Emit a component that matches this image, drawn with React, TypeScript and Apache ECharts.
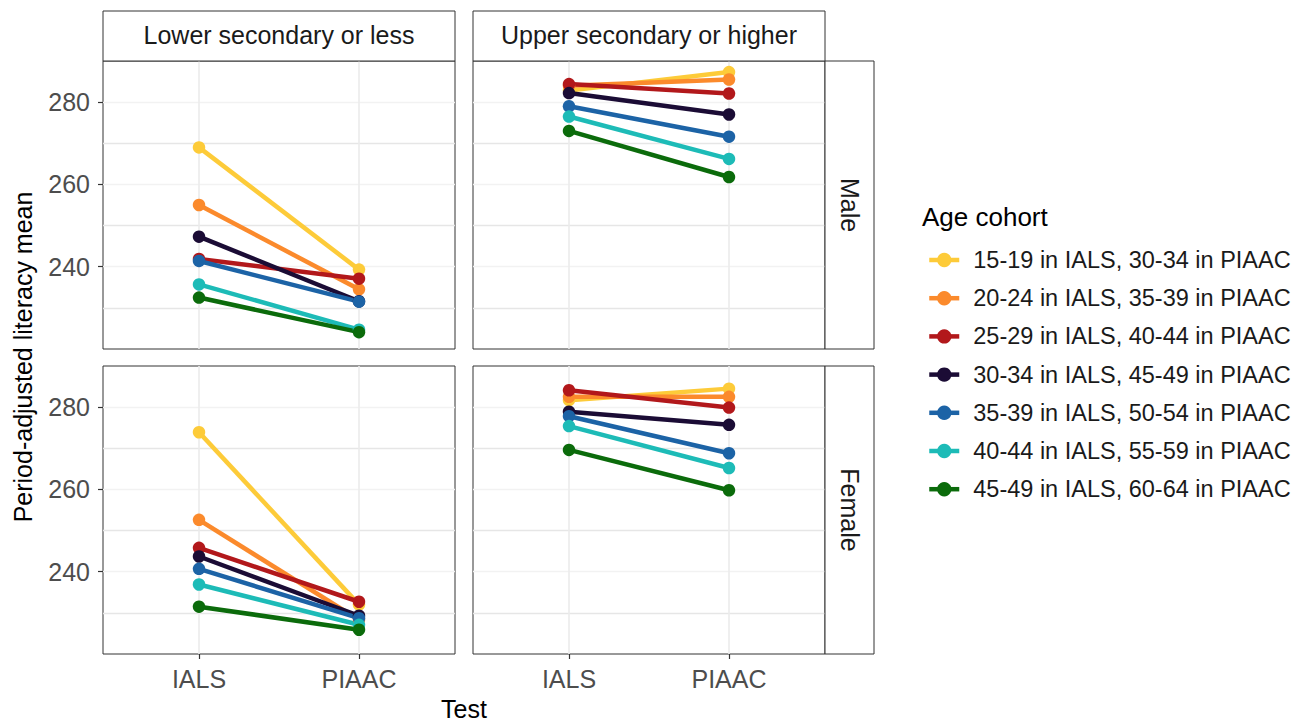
import React, { useEffect, useRef } from 'react';
import * as echarts from 'echarts';

const categories = ['IALS', 'PIAAC'];
const cohorts = [
  '15-19 in IALS, 30-34 in PIAAC',
  '20-24 in IALS, 35-39 in PIAAC',
  '25-29 in IALS, 40-44 in PIAAC',
  '30-34 in IALS, 45-49 in PIAAC',
  '35-39 in IALS, 50-54 in PIAAC',
  '40-44 in IALS, 55-59 in PIAAC',
  '45-49 in IALS, 60-64 in PIAAC',
];
const cohortColors = ['#FDCB39', '#FB8A2C', '#B2181B', '#1B0C35', '#1C63A6', '#1DBBB7', '#0B6B0B'];
const educationLevels = ['Lower secondary or less', 'Upper secondary or higher'];
const sexes = ['Male', 'Female'];

// values per cohort (same order as cohorts)
const maleLowerIALS = [269.0, 255.0, 241.9, 247.3, 241.4, 235.7, 232.5];
const maleLowerPIAAC = [239.3, 234.5, 237.1, 231.6, 231.5, 224.7, 224.1];
const maleUpperIALS = [282.8, 284.0, 284.4, 282.2, 279.0, 276.5, 273.0];
const maleUpperPIAAC = [287.3, 285.5, 282.1, 277.0, 271.6, 266.2, 261.8];
const femaleLowerIALS = [273.9, 252.6, 245.8, 243.7, 240.7, 236.9, 231.5];
const femaleLowerPIAAC = [232.0, 228.3, 232.7, 229.3, 228.7, 227.1, 225.9];
const femaleUpperIALS = [281.7, 282.5, 284.1, 278.9, 277.8, 275.4, 269.6];
const femaleUpperPIAAC = [284.5, 282.5, 279.9, 275.7, 268.8, 265.2, 259.8];

const yTickLabels = [240, 260, 280];

const FONT = '"Liberation Sans", Arial, Helvetica, sans-serif';

export default function App() {
  const ref = useRef<HTMLDivElement>(null);

  useEffect(() => {
    if (!ref.current) return;
    const chart = echarts.init(ref.current, undefined, { renderer: 'svg' });

    const panels = [
      { row: 0, col: 0, ials: maleLowerIALS, piaac: maleLowerPIAAC },
      { row: 0, col: 1, ials: maleUpperIALS, piaac: maleUpperPIAAC },
      { row: 1, col: 0, ials: femaleLowerIALS, piaac: femaleLowerPIAAC },
      { row: 1, col: 1, ials: femaleUpperIALS, piaac: femaleUpperPIAAC },
    ];
    const panelLeft = [103, 473];
    const panelTop = [61, 366];
    const panelW = 352;
    const panelH = 288;

    // discrete x scale with ggplot-like expansion: 11 slots, categories at 3 and 8
    const slots = Array.from({ length: 12 }, (_, i) =>
      i === 3 ? categories[0] : i === 8 ? categories[1] : `_${i}`
    );
    const isCat = (_i: number, v: string) => categories.includes(v);

    const grid = panels.map((p) => ({
      left: panelLeft[p.col],
      top: panelTop[p.row],
      width: panelW,
      height: panelH,
      show: true,
      borderColor: '#333333',
      borderWidth: 1,
      backgroundColor: 'transparent',
      containLabel: false,
    }));

    const xAxis = panels.map((p, i) => ({
      type: 'category',
      gridIndex: i,
      data: slots,
      boundaryGap: false,
      axisLine: { show: false },
      axisTick: {
        show: p.row === 1,
        interval: isCat,
        length: 5,
        lineStyle: { color: '#333333', width: 1.2 },
      },
      axisLabel: {
        show: p.row === 1,
        interval: isCat,
        fontSize: 25,
        color: '#4d4d4d',
        fontFamily: FONT,
        margin: 12,
      },
      splitLine: {
        show: true,
        interval: isCat,
        lineStyle: { color: '#ebebeb', width: 1.6 },
      },
    }));

    const yAxis: any[] = [];
    panels.forEach((p, i) => {
      // grid-line axis (major + minor lines every 10)
      yAxis.push({
        type: 'value',
        gridIndex: i,
        min: 220,
        max: 290,
        interval: 10,
        axisLine: { show: false },
        axisTick: { show: false },
        axisLabel: { show: false },
        splitLine: {
          show: true,
          showMinLine: false,
          showMaxLine: false,
          lineStyle: { color: ['#e6e6e6', '#f2f2f2'], width: 1.4 },
        },
      });
      // label/tick axis
      yAxis.push({
        type: 'value',
        gridIndex: i,
        position: 'left',
        min: 220,
        max: 290,
        interval: 10,
        axisLine: { show: false },
        axisTick: {
          show: p.col === 0,
          customValues: yTickLabels,
          length: 5,
          lineStyle: { color: '#333333', width: 1.2 },
        },
        axisLabel: {
          show: p.col === 0,
          customValues: yTickLabels,
          formatter: (v: number) => (yTickLabels.includes(v) ? String(v) : ''),
          fontSize: 25,
          color: '#4d4d4d',
          fontFamily: FONT,
          margin: 13,
        },
        splitLine: { show: false },
      });
    });

    const series: any[] = [];
    panels.forEach((p, i) => {
      cohorts.forEach((name, k) => {
        series.push({
          type: 'line',
          name,
          xAxisIndex: i,
          yAxisIndex: 2 * i,
          data: [
            [categories[0], p.ials[k]],
            [categories[1], p.piaac[k]],
          ],
          symbol: 'circle',
          symbolSize: 12.5,
          lineStyle: { width: 4.5, color: cohortColors[k] },
          itemStyle: { color: cohortColors[k] },
          emphasis: { disabled: true },
          silent: true,
        });
      });
    });

    const stripStyle = { fill: '#ffffff', stroke: '#333333', lineWidth: 1 };
    const stripText = { fill: '#1a1a1a', fontSize: 25, fontFamily: FONT, align: 'center', verticalAlign: 'middle' };

    const graphic: any[] = [];
    educationLevels.forEach((lvl, c) => {
      graphic.push({
        type: 'rect',
        shape: { x: panelLeft[c], y: 11, width: panelW, height: 50 },
        style: stripStyle,
        z: 10,
      });
      graphic.push({
        type: 'text',
        x: panelLeft[c] + panelW / 2,
        y: 35,
        style: { ...stripText, text: lvl },
        z: 11,
      });
    });
    sexes.forEach((s, r) => {
      graphic.push({
        type: 'rect',
        shape: { x: panelLeft[1] + panelW, y: panelTop[r], width: 49, height: panelH },
        style: stripStyle,
        z: 10,
      });
      graphic.push({
        type: 'text',
        x: panelLeft[1] + panelW + 24.5,
        y: panelTop[r] + panelH / 2,
        rotation: -Math.PI / 2,
        style: { ...stripText, text: s },
        z: 11,
      });
    });
    graphic.push({
      type: 'text',
      x: 23,
      y: 357,
      rotation: Math.PI / 2,
      style: { text: 'Period-adjusted literacy mean', fill: '#000000', fontSize: 25, fontFamily: FONT, align: 'center', verticalAlign: 'middle' },
    });
    graphic.push({
      type: 'text',
      x: 464,
      y: 709,
      style: { text: 'Test', fill: '#000000', fontSize: 25, fontFamily: FONT, align: 'center', verticalAlign: 'middle' },
    });
    graphic.push({
      type: 'text',
      x: 922,
      y: 217,
      style: { text: 'Age cohort', fill: '#000000', fontSize: 26, fontFamily: FONT, align: 'left', verticalAlign: 'middle' },
    });

    chart.setOption({
      animation: false,
      backgroundColor: '#ffffff',
      textStyle: { fontFamily: FONT },
      grid,
      xAxis,
      yAxis,
      series,
      legend: {
        orient: 'vertical',
        left: 927,
        top: 248,
        padding: 0,
        itemWidth: 30,
        itemHeight: 18,
        itemGap: 14.2,
        selectedMode: false,
        data: cohorts,
        lineStyle: { width: 4.5 },
        textStyle: { fontSize: 23.5, color: '#1a1a1a', fontFamily: FONT, lineHeight: 18, padding: [0, 0, 0, 9] },
      },
      graphic,
    });

    return () => chart.dispose();
  }, []);

  return (
    <div
      ref={ref}
      style={{ position: 'absolute', left: 0, top: 0, width: 1303, height: 722 }}
    />
  );
}
